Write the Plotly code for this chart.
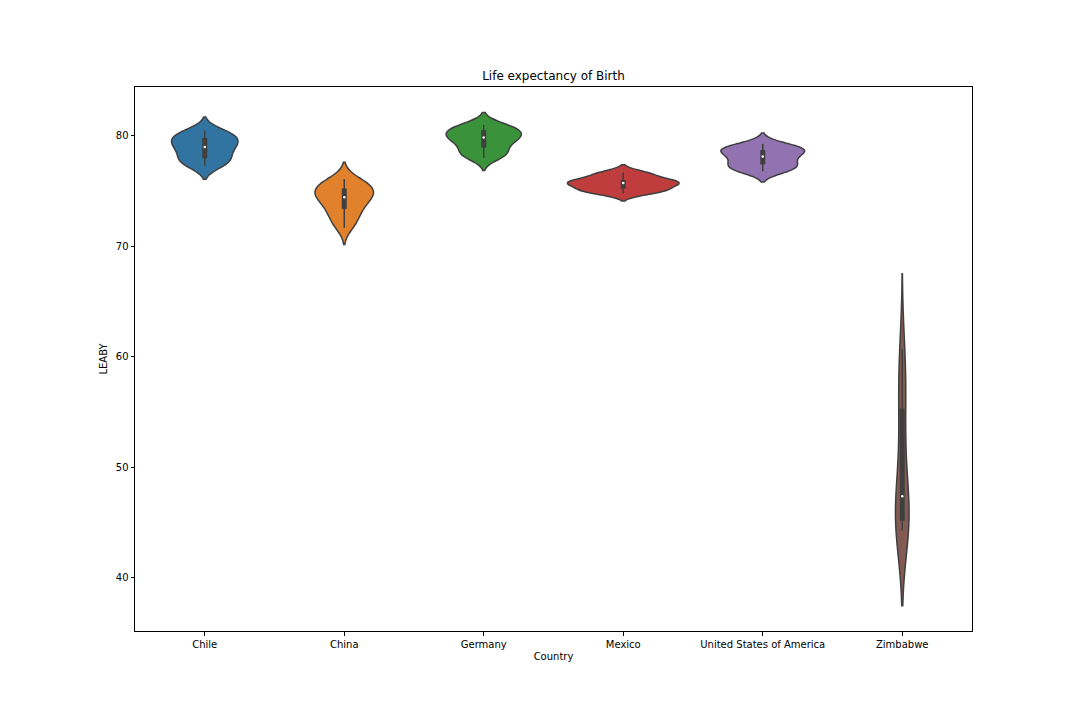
import numpy as np
import plotly.graph_objects as go

countries = ["Chile", "China", "Germany", "Mexico", "United States of America", "Zimbabwe"]
leaby_chile = [77.3, 77.3, 77.8, 77.9, 78.0, 78.4, 78.9, 78.9, 79.6, 79.3, 79.1, 79.8, 79.9, 80.1, 80.3, 80.5]
leaby_china = [71.7, 72.2, 72.7, 73.1, 73.5, 73.9, 74.2, 74.4, 74.5, 74.9, 75.0, 75.2, 75.4, 75.6, 75.8, 76.1]
leaby_germany = [78.0, 78.3, 78.4, 78.5, 79.1, 79.2, 79.6, 79.8, 79.9, 80.0, 80.1, 80.5, 80.6, 80.6, 80.9, 81.0]
leaby_mexico = [74.8, 75.0, 75.0, 75.0, 75.4, 75.3, 75.8, 76.0, 75.9, 75.7, 75.6, 75.8, 76.1, 76.5, 76.6, 76.7]
leaby_usa = [76.8, 76.9, 77.0, 77.2, 77.5, 77.5, 77.8, 78.1, 78.2, 78.5, 78.7, 78.7, 78.8, 78.9, 79.1, 79.3]
leaby_zimbabwe = [46.0, 45.3, 44.8, 44.5, 44.3, 44.6, 45.4, 46.6, 48.2, 50.0, 52.4, 54.9, 56.6, 58.0, 59.2, 60.7]
series = [leaby_chile, leaby_china, leaby_germany, leaby_mexico, leaby_usa, leaby_zimbabwe]

# styles
colors = ["#3274a1", "#e1812c", "#3a923a", "#c03d3e", "#9372b2", "#845b53"]
violin_widths = [0.477, 0.42, 0.54, 0.80, 0.60, 0.097]
edge = "#3f3f3f"
font = "DejaVu Sans"


def scott_bw(v):
    v = np.asarray(v, float)
    return v.std(ddof=1) * len(v) ** (-1 / 5)


fig = go.Figure()
for name, v, c, w in zip(countries, series, colors, violin_widths):
    fig.add_trace(go.Violin(
        x=[name] * len(v), y=v, name=name,
        bandwidth=scott_bw(v), spanmode="soft", width=w,
        scalemode="width", fillcolor=c, opacity=1,
        line=dict(color=edge, width=1.5),
        points=False, box_visible=False, meanline_visible=False,
        hoveron="violins", showlegend=False,
    ))

for name, v in zip(countries, series):
    a = np.asarray(v, float)
    q1, med, q3 = np.percentile(a, [25, 50, 75])
    iqr = q3 - q1
    lo = a[a >= q1 - 1.5 * iqr].min()
    hi = a[a <= q3 + 1.5 * iqr].max()
    fig.add_trace(go.Scatter(x=[name, name], y=[lo, hi], mode="lines",
                             line=dict(color=edge, width=1.5), showlegend=False, hoverinfo="skip"))
    fig.add_trace(go.Scatter(x=[name, name], y=[q1, q3], mode="lines",
                             line=dict(color=edge, width=5), showlegend=False, hoverinfo="skip"))
    fig.add_trace(go.Scatter(x=[name], y=[med], mode="markers",
                             marker=dict(color="white", size=2.5), showlegend=False, hoverinfo="skip"))

axis_common = dict(showline=True, linecolor="black", linewidth=1, mirror=True,
                   ticks="outside", ticklen=3.5, tickcolor="black", showgrid=False,
                   zeroline=False, tickfont=dict(size=10, color="black", family=font))

fig.update_layout(
    width=1080, height=720,
    margin=dict(l=127, r=116, t=79, b=97),
    paper_bgcolor="white", plot_bgcolor="white",
    violinmode="overlay",
    font=dict(family=font, size=10, color="black"),
    title=dict(text="Life expectancy of Birth", x=0.5, xref="paper", xanchor="center",
               y=1 - 68 / 720, yref="container", yanchor="middle",
               font=dict(size=12, family=font, color="black")),
    xaxis=dict(axis_common, range=[-0.5, 5.5], categoryorder="array", categoryarray=countries,
               title=dict(text="Country", standoff=4, font=dict(size=10, family=font))),
    yaxis=dict(axis_common, range=[35.2, 84.43], tickvals=[40, 50, 60, 70, 80],
               title=dict(text="LEABY", standoff=6, font=dict(size=10, family=font))),
)

fig.write_html("out.html")
